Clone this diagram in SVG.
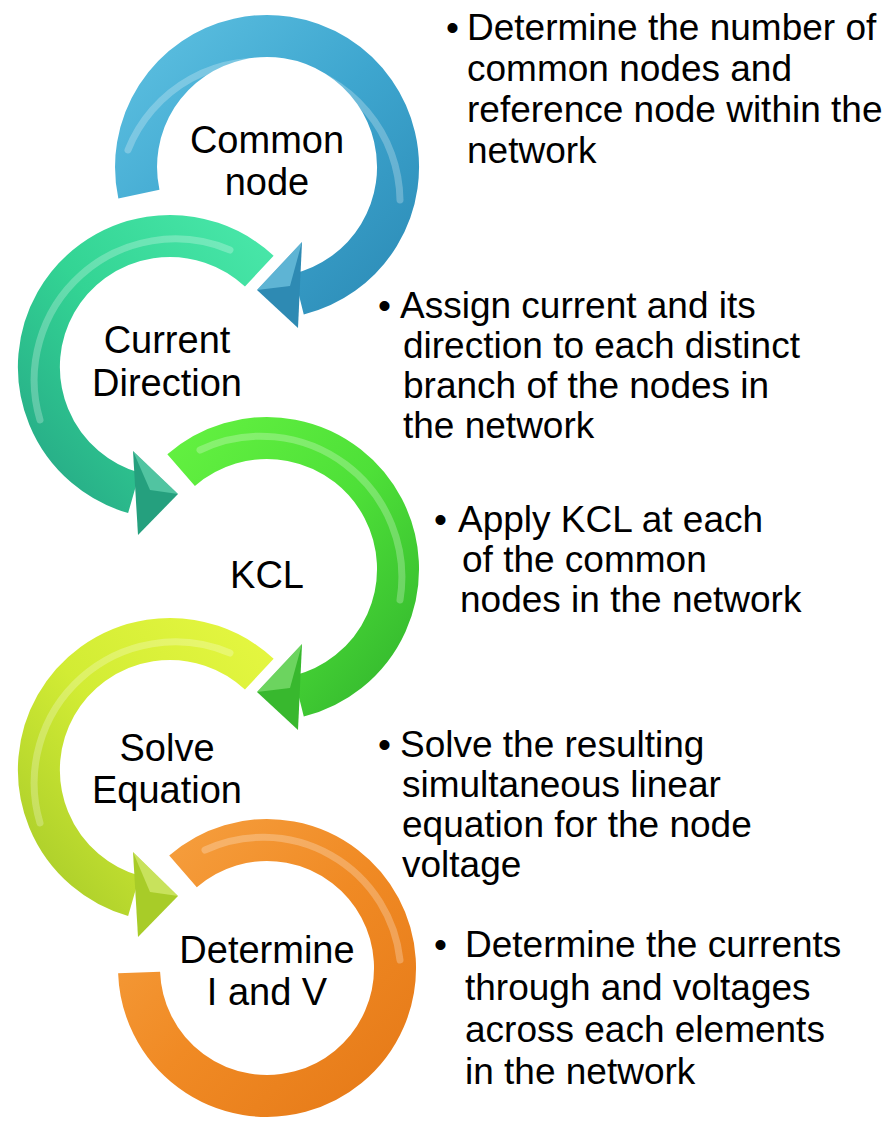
<svg xmlns="http://www.w3.org/2000/svg" width="886" height="1125" viewBox="0 0 886 1125">
<style>
.lbl{font-family:"Liberation Sans",Arial,sans-serif;font-size:38px;fill:#000;text-anchor:middle}
.txt{font-family:"Liberation Sans",Arial,sans-serif;font-size:37px;fill:#000}
.arc{fill:none;stroke-width:42;stroke-linecap:butt}
.hi{fill:none;stroke:#fff;stroke-width:7;stroke-opacity:0.25;stroke-linecap:round}
</style>
<defs>
<linearGradient id="gBlue" x1="0" y1="0" x2="1" y2="1"><stop offset="0" stop-color="#5cbfe0"/><stop offset="0.5" stop-color="#3ea6cf"/><stop offset="1" stop-color="#2d8db8"/></linearGradient>
<linearGradient id="gTeal" x1="1" y1="0" x2="0" y2="1"><stop offset="0" stop-color="#48e6a8"/><stop offset="0.5" stop-color="#33d494"/><stop offset="1" stop-color="#26a986"/></linearGradient>
<linearGradient id="gLime" x1="0" y1="0" x2="1" y2="1"><stop offset="0" stop-color="#62f040"/><stop offset="0.5" stop-color="#4ee038"/><stop offset="1" stop-color="#34b82e"/></linearGradient>
<linearGradient id="gYel" x1="1" y1="0" x2="0" y2="1"><stop offset="0" stop-color="#e4f640"/><stop offset="0.5" stop-color="#d2ec34"/><stop offset="1" stop-color="#a9cc2a"/></linearGradient>
<linearGradient id="gOr" x1="0" y1="0" x2="1" y2="1"><stop offset="0" stop-color="#f6a040"/><stop offset="0.5" stop-color="#f08a24"/><stop offset="1" stop-color="#e67a18"/></linearGradient>
</defs>
<rect width="886" height="1125" fill="#fff"/>

<g id="node-common">
<path class="arc" stroke="url(#gBlue)" d="M 138.9 194.2 A 131 131 0 1 1 298.7 294.1"/>
<path class="hi" d="M 128 150 A 141 141 0 0 1 400 200"/>
<text class="lbl" x="267" y="153">Common</text>
<text class="lbl" x="267" y="195">node</text>
</g>

<g id="node-current">
<path class="arc" stroke="url(#gTeal)" d="M 259.3 271.2 A 131 131 0 1 0 133.9 492.9"/>
<path class="hi" d="M 230 250 A 141 141 0 0 0 40 420"/>
<text class="lbl" x="167" y="353">Current</text>
<text class="lbl" x="167" y="396">Direction</text>
</g>

<g id="node-kcl">
<path class="arc" stroke="url(#gLime)" d="M 181.1 470.1 A 131 131 0 1 1 298.7 696.1"/>
<path class="hi" d="M 200 450 A 141 141 0 0 1 400 600"/>
<text class="lbl" x="267" y="588">KCL</text>
</g>

<g id="node-solve">
<path class="arc" stroke="url(#gYel)" d="M 259.3 674.2 A 131 131 0 1 0 133.9 895.9"/>
<path class="hi" d="M 230 653 A 141 141 0 0 0 40 823"/>
<text class="lbl" x="167" y="761">Solve</text>
<text class="lbl" x="167" y="803">Equation</text>
</g>

<g id="node-determine">
<path class="arc" stroke="url(#gOr)" stroke-width="40" d="M 183 871.4 A 128 128 0 1 1 139.1 972.5"/>
<path class="hi" d="M 205 850 A 138 138 0 0 1 400 960"/>
<text class="lbl" x="267" y="963">Determine</text>
<text class="lbl" x="267" y="1005">I and V</text>
</g>

<g id="connectors">
<polygon points="302,242 257,290 298,328" fill="#2e8ab3"/>
<polygon points="302,242 257,290 290,286" fill="#7fd0ea" fill-opacity="0.6"/>
<polygon points="133,451 178,494 138,535" fill="#25a07e"/>
<polygon points="133,451 178,494 150,490" fill="#7ee8c4" fill-opacity="0.5"/>
<polygon points="302,644 257,692 298,730" fill="#38b82e"/>
<polygon points="302,644 257,692 290,688" fill="#a0f090" fill-opacity="0.5"/>
<polygon points="133,852 178,896 138,937" fill="#a8cc28"/>
<polygon points="133,852 178,896 150,892" fill="#e8f890" fill-opacity="0.5"/>
</g>

<g id="desc-1">
<text class="txt" x="446" y="40">•</text>
<text class="txt" x="467" y="40">Determine the number of</text>
<text class="txt" x="467" y="81">common nodes and</text>
<text class="txt" x="467" y="122">reference node within the</text>
<text class="txt" x="467" y="163">network</text>
</g>
<g id="desc-2">
<text class="txt" x="378" y="318">•</text>
<text class="txt" x="400" y="318">Assign current and its</text>
<text class="txt" x="403" y="358">direction to each distinct</text>
<text class="txt" x="403" y="398">branch of the nodes in</text>
<text class="txt" x="403" y="438">the network</text>
</g>
<g id="desc-3">
<text class="txt" x="434" y="532">•</text>
<text class="txt" x="458" y="532">Apply KCL at each</text>
<text class="txt" x="462" y="572">of the common</text>
<text class="txt" x="460" y="612">nodes in the network</text>
</g>
<g id="desc-4">
<text class="txt" x="378" y="757">•</text>
<text class="txt" x="400" y="757">Solve the resulting</text>
<text class="txt" x="402" y="797">simultaneous linear</text>
<text class="txt" x="402" y="837">equation for the node</text>
<text class="txt" x="402" y="877">voltage</text>
</g>
<g id="desc-5">
<text class="txt" x="434" y="957">•</text>
<text class="txt" x="465" y="957">Determine the currents</text>
<text class="txt" x="465" y="1000">through and voltages</text>
<text class="txt" x="465" y="1042">across each elements</text>
<text class="txt" x="465" y="1084">in the network</text>
</g>
</svg>
